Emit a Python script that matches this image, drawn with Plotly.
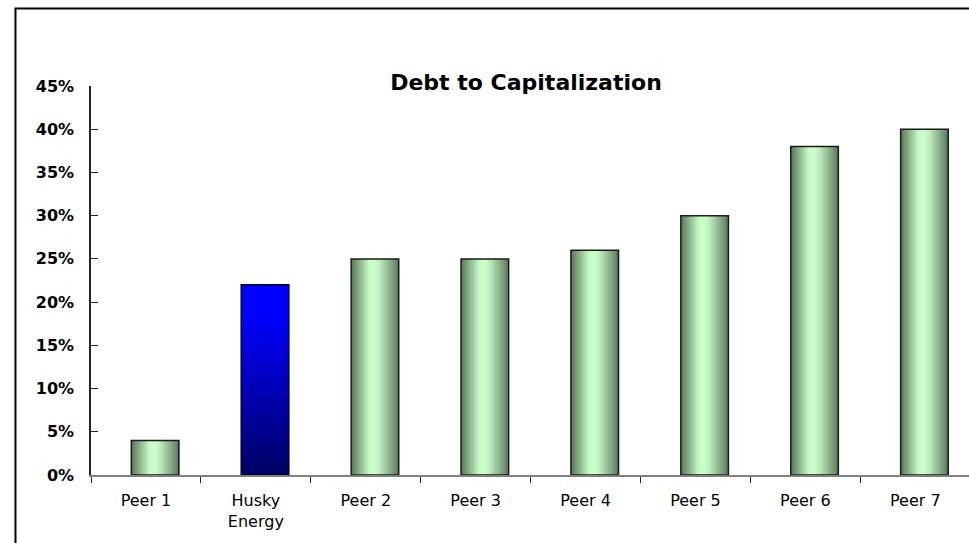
import plotly.graph_objects as go

# ---- data ----
categories = ["Peer 1", "Husky Energy", "Peer 2", "Peer 3", "Peer 4", "Peer 5", "Peer 6", "Peer 7"]
tick_labels = ["Peer 1", "Husky<br>Energy", "Peer 2", "Peer 3", "Peer 4", "Peer 5", "Peer 6", "Peer 7"]
values = [0.04, 0.22, 0.25, 0.25, 0.26, 0.30, 0.38, 0.40]
highlight = "Husky Energy"
y_ticks = [0, 0.05, 0.10, 0.15, 0.20, 0.25, 0.30, 0.35, 0.40, 0.45]

# ---- styles ----
BAR_W = 0.433
BAR_OFF = -0.133
FONT = "DejaVu Sans"

peer_x = [c for c in categories if c != highlight]
peer_y = [v for c, v in zip(categories, values) if c != highlight]
hl_y = [v for c, v in zip(categories, values) if c == highlight][0]


def lerp_stops(stops, t):
    for (t0, c0), (t1, c1) in zip(stops[:-1], stops[1:]):
        if t0 <= t <= t1:
            f = (t - t0) / (t1 - t0) if t1 > t0 else 0
            return "rgb(%d,%d,%d)" % tuple(round(a + (b - a) * f) for a, b in zip(c0, c1))
    return "rgb(%d,%d,%d)" % stops[-1][1]


green_stops = [(0.0, (88, 118, 88)), (0.18, (140, 180, 140)), (0.38, (200, 250, 200)),
               (0.5, (204, 255, 204)), (0.62, (186, 232, 186)), (0.85, (130, 165, 130)),
               (1.0, (92, 120, 92))]
blue_stops = [(0.0, (0, 0, 100)), (0.85, (0, 0, 255)), (1.0, (0, 0, 255))]

fig = go.Figure()

# green cylinder-like bars: nested stripes (horizontal gradient)
N = 28
for i in range(N):
    frac = i / N
    fig.add_trace(go.Bar(
        x=peer_x, y=peer_y,
        width=BAR_W * (1 - frac), offset=BAR_OFF + BAR_W * frac,
        marker=dict(color=lerp_stops(green_stops, (i + 0.5) / N), line=dict(width=0)),
        hoverinfo="skip", showlegend=False))

# highlighted bar: vertical gradient via nested pieces
M = 40
for j in range(M):
    frac = j / M
    fig.add_trace(go.Bar(
        x=[highlight], y=[hl_y * (1 - frac)], base=[hl_y * frac],
        width=BAR_W, offset=BAR_OFF,
        marker=dict(color=lerp_stops(blue_stops, (j + 0.5) / M), line=dict(width=0)),
        hoverinfo="skip", showlegend=False))

# outlines
fig.add_trace(go.Bar(
    x=categories, y=values, width=BAR_W, offset=BAR_OFF,
    marker=dict(color="rgba(0,0,0,0)",
                line=dict(width=1.5, color=["#000033" if c == highlight else "#1a1a1a" for c in categories])),
    showlegend=False))

fig.update_layout(
    width=969, height=543,
    margin=dict(l=91, r=0, t=86, b=68),
    paper_bgcolor="white", plot_bgcolor="white",
    barmode="overlay",
    showlegend=False,
    title=dict(text="<b>Debt to Capitalization</b>", font=dict(family=FONT, size=22, color="black"),
               x=526 / 969, xanchor="center", xref="container",
               y=1 - 82 / 543, yanchor="middle", yref="container"),
    xaxis=dict(type="category", categoryorder="array", categoryarray=categories,
               range=[-0.5, 7.489],
               tickmode="array", tickvals=categories, ticktext=tick_labels,
               tickson="boundaries", ticks="outside", ticklen=6, tickwidth=1.2, tickcolor="#222",
               showline=True, linecolor="#808080", linewidth=1.5,
               showgrid=False, zeroline=False,
               tickfont=dict(family=FONT, size=16, color="black"),
               ticklabelstandoff=10),
    yaxis=dict(range=[0, 0.45], tickmode="array", tickvals=y_ticks, tickformat=".0%",
               ticks="inside", ticklen=7, tickwidth=1.2, tickcolor="#222",
               showline=True, linecolor="#222", linewidth=1.5,
               showgrid=False, zeroline=False,
               tickfont=dict(family=FONT, size=16, color="black", weight="bold"),
               ticklabelstandoff=12),
    shapes=[dict(type="rect", xref="paper", yref="paper",
                 x0=-0.086, x1=1.02, y0=-0.3, y1=1.1992,
                 line=dict(color="black", width=2), fillcolor="rgba(0,0,0,0)", layer="above")],
)

fig.write_html("out.html", config={"displayModeBar": False},
               post_script="document.body.style.margin='0';document.body.style.overflow='hidden';")
